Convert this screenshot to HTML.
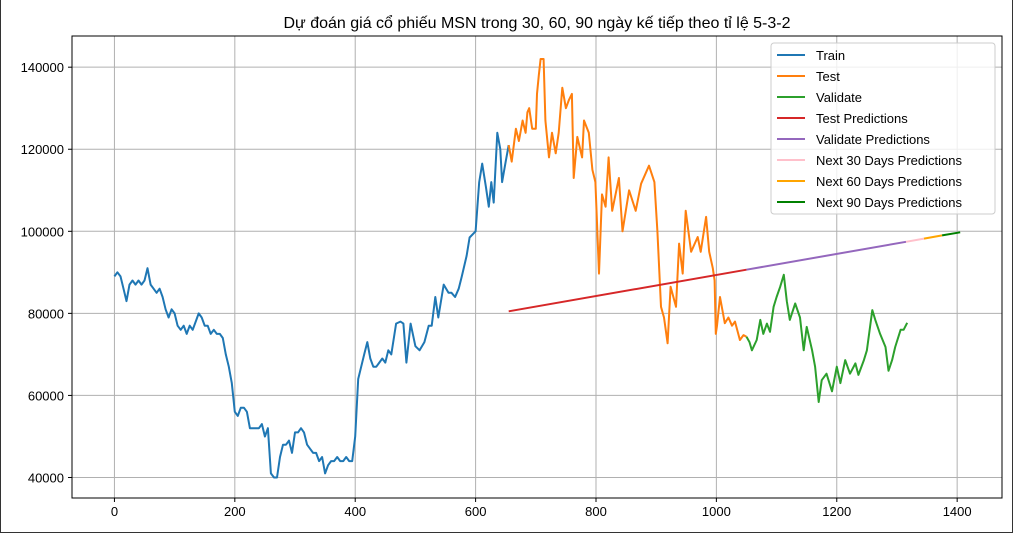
<!DOCTYPE html>
<html><head><meta charset="utf-8"><style>
html,body{margin:0;padding:0;background:#fff;}
body{width:1013px;height:534px;overflow:hidden;}
#frame{position:absolute;left:0;top:0;width:1011px;height:532px;border-left:1px solid #333;border-right:1px solid #333;border-bottom:1px solid #333;}
svg text{font-family:"Liberation Sans","Noto Sans CJK SC",sans-serif;}
</style></head><body>
<div id="frame"></div>
<svg id="chart" width="1013" height="534" style="position:absolute;left:0;top:0">
<text x="537" y="28" text-anchor="middle" font-size="16" fill="#000">Dự đoán giá cổ phiếu MSN trong 30, 60, 90 ngày kế tiếp theo tỉ lệ 5-3-2</text>
<g id="grid"></g>
<g id="series"></g>
<rect x="72" y="36" width="930" height="462" fill="none" stroke="#000" stroke-width="1"/>
<g id="ticks"></g>
<g id="legend"></g>
</svg>
<script>
const xTicks=[0,200,400,600,800,1000,1200,1400];
const yTicks=[40000,60000,80000,100000,120000,140000];
const trainX=[0,5,10,15,20,25,30,35,40,45,50,55,60,65,70,75,80,85,90,95,100,105,110,115,120,125,130,135,140,145,150,155,160,165,170,175,180,185,190,195,200,205,210,215,220,225,230,235,240,245,250,255,260,265,270,275,280,285,290,295,300,305,310,315,320,325,330,335,340,345,350,355,360,365,370,375,380,385,390,395,400,405,410,415,420,425,430,435,440,445,450,455,460,468,475,480,485,492,500,507,515,522,527,533,538,547,555,560,566,572,577,585,590,600,606,611,617,622,626,630,636,641,644,650,655];
const trainY=[89,90,89,86,83,87,88,87,88,87,88,91,87,86,85,86,84,81,79,81,80,77,76,77,75,77,76,78,80,79,77,77,75,76,75,75,74,70,67,63,56,55,57,57,56,52,52,52,52,53,50,52,41,40,40,45,48,48,49,46,51,51,52,51,48,47,46,46,44,45,41,43,44,44,45,44,44,45,44,44,50,64,67,70,73,69,67,67,68,69,68,71,70,77.5,78,77.5,68,77.5,72,71,73,77,77,84,79,87,85,85,84,86,89,94,98.5,100,112,116.5,111,106,112,107,124,120,112,117,121];
const testX=[655,660,667,672,678,683,686,689,694,700,702,705,708,713,716,722,727,733,738,744,750,755,760,763,769,777,780,788,794,799,805,810,816,821,827,838,844,855,866,875,888,897,902,908,913,919,924,933,938,944,949,958,969,974,983,988,994,997,999,1001,1006,1014,1020,1026,1031,1039,1045,1050];
const testY=[121,117,125,122,127,124,129,130,125,125,133.5,138,142,142,127,118,124,119,124,135,130,132,133.5,113,123,118,127,124,115,112,89.7,109,106,118,105,113,100,110,105,111.6,116,112,100,81.6,79,72.7,86.5,81.6,97,89.7,105,95,98.6,95,103.5,95,91,88,75,77,84,77.6,79,77,78,73.5,74.7,74.3];
const valX=[1050,1055,1059,1067,1073,1078,1084,1089,1095,1100,1106,1112,1117,1122,1131,1139,1145,1150,1159,1164,1170,1175,1183,1192,1200,1206,1214,1222,1231,1236,1245,1250,1259,1264,1272,1281,1286,1292,1297,1306,1311,1317];
const valY=[74.3,73,71,73.5,78.4,75,77.5,75.5,81.6,84,86.5,89.4,83,78.4,82.4,79,71,76.7,71,67,58.4,63.7,65.3,61,67,63,68.6,65.3,67.8,65,68.6,71,80.8,78.4,75,71.8,66,68.6,71.8,76,76,77.7];
const predNames=["Test Predictions","Validate Predictions","Next 30 Days Predictions","Next 60 Days Predictions","Next 90 Days Predictions"];
const predStartX=[655,1050,1315,1345,1375];
const predEndX=[1050,1315,1345,1375,1405];
const predStartY=[80500,90650,97450,98220,98990];
const predEndY=[90650,97450,98220,98990,99760];
const predColors=["#d62728","#9467bd","#ffc0cb","#ffa500","#008000"];

const NS="http://www.w3.org/2000/svg";
const X0=72,X1=1002,Y0=36,Y1=498;
const xmin=-70.5,xmax=1474.5,ymin=35000,ymax=147600;
function sx(v){return X0+(v-xmin)/(xmax-xmin)*(X1-X0);}
function sy(v){return Y1-(v-ymin)/(ymax-ymin)*(Y1-Y0);}
function mk(tag,attrs,parent){const e=document.createElementNS(NS,tag);for(const k in attrs)e.setAttribute(k,attrs[k]);parent.appendChild(e);return e;}
const grid=document.getElementById('grid'),ticks=document.getElementById('ticks'),series=document.getElementById('series'),legend=document.getElementById('legend');
xTicks.forEach(t=>{
 const g=mk('line',{x1:sx(t),x2:sx(t),y1:Y0,y2:Y1,stroke:'#b0b0b0','stroke-width':1},grid);
 
 
 const tk=mk('line',{x1:sx(t),x2:sx(t),y1:Y1,y2:Y1+4,stroke:'#000'},ticks);
 
 
 const tx=mk('text',{x:sx(t),y:Y1+18,'text-anchor':'middle','font-size':13},ticks);
 tx.textContent=t;
 
 
});
yTicks.forEach(t=>{
 const g=mk('line',{x1:X0,x2:X1,y1:sy(t),y2:sy(t),stroke:'#b0b0b0','stroke-width':1},grid);
 
 
 const tk=mk('line',{x1:X0-4,x2:X0,y1:sy(t),y2:sy(t),stroke:'#000'},ticks);
 
 
 const tx=mk('text',{x:X0-8,y:sy(t)+5,'text-anchor':'end','font-size':13},ticks);
 tx.textContent=t;
 
 
});
function line(xs,ys,color,name,scale){
 const d=xs.map((x,i)=>(i?'L':'M')+sx(x).toFixed(1)+','+sy(ys[i]*scale).toFixed(1)).join('');
 const p=mk('path',{d:d,fill:'none',stroke:color,'stroke-width':2,'stroke-linejoin':'round'},series);
 
 
}
line(trainX,trainY,'#1f77b4','train-line',1000);
line(testX,testY,'#ff7f0e','test-line',1000);
line(valX,valY,'#2ca02c','validate-line',1000);
predNames.forEach((n,i)=>{
 line([predStartX[i],predEndX[i]],[predStartY[i],predEndY[i]],predColors[i],'prediction-line-'+i,1);
});
const lg=mk('rect',{x:771,y:43,width:224,height:171,rx:3,fill:'#fff','fill-opacity':0.8,stroke:'#ccc'},legend);


const names=["Train","Test","Validate"].concat(predNames);
const cols=["#1f77b4","#ff7f0e","#2ca02c"].concat(predColors);
names.forEach((n,i)=>{
 const y=55+i*21;
 const l=mk('line',{x1:777,x2:805,y1:y,y2:y,stroke:cols[i],'stroke-width':2},legend);
 
 
 const t=mk('text',{x:816,y:y+5,'font-size':13},legend);
 t.textContent=n;
 
 
});
</script>
</body></html>
